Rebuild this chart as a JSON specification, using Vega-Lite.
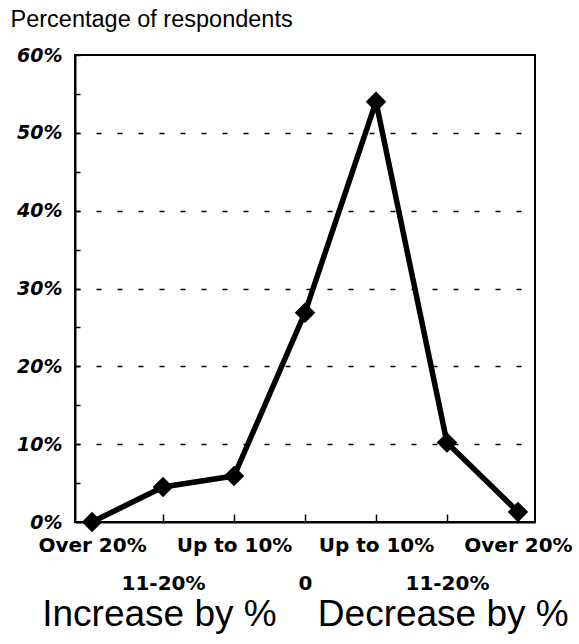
{
  "$schema": "https://vega.github.io/schema/vega-lite/v6.json",
  "width": 460,
  "height": 467,
  "autosize": {"type": "none"},
  "padding": {"left": 75, "top": 55, "right": 44, "bottom": 122},
  "background": "white",
  "config": {"view": {"stroke": "black", "strokeWidth": 2}, "font": "Liberation Sans"},
  "data": {"values": [
    {"i": 0, "direction": "Increase", "range": "Over 20%", "pct": 0},
    {"i": 1, "direction": "Increase", "range": "11-20%", "pct": 4.5},
    {"i": 2, "direction": "Increase", "range": "Up to 10%", "pct": 5.9},
    {"i": 3, "direction": "None", "range": "0", "pct": 26.9},
    {"i": 4, "direction": "Decrease", "range": "Up to 10%", "pct": 54.0},
    {"i": 5, "direction": "Decrease", "range": "11-20%", "pct": 10.2},
    {"i": 6, "direction": "Decrease", "range": "Over 20%", "pct": 1.3}
  ]},
  "encoding": {
    "x": {
      "field": "i", "type": "quantitative",
      "scale": {"domain": [-0.24, 6.24], "nice": false, "zero": false},
      "axis": {
        "values": [0, 1, 2, 3, 4, 5, 6],
        "labelExpr": "['Over 20%', ['', '11-20%'], 'Up to 10%', ['', '0'], 'Up to 10%', ['', '11-20%'], 'Over 20%'][datum.value]",
        "labelFont": "DejaVu Sans", "labelFontWeight": "bold", "labelFontSize": 20,
        "labelColor": "black", "labelLineHeight": 38, "labelBaseline": "top",
        "labelPadding": 21, "labelFlush": false, "labelOverlap": false,
        "tickSize": -8, "tickColor": "black", "tickWidth": 1.5,
        "domainColor": "black", "domainWidth": 2, "grid": false,
        "title": "Increase by %\u00a0\u00a0\u00a0\u00a0Decrease by %",
        "titleFont": "Liberation Sans", "titleFontSize": 37, "titleFontWeight": "normal",
        "titleColor": "black", "titlePadding": 3
      }
    },
    "y": {
      "field": "pct", "type": "quantitative",
      "scale": {"domain": [0, 60], "nice": false},
      "axis": {
        "values": [0, 5, 10, 15, 20, 25, 30, 35, 40, 45, 50, 55, 60],
        "labelExpr": "datum.value % 10 === 0 ? datum.value + '%' : ''",
        "labelFont": "DejaVu Sans", "labelFontWeight": "bold", "labelFontStyle": "italic",
        "labelFontSize": 19, "labelColor": "black", "labelPadding": 18,
        "tickSize": -5, "tickColor": "black", "tickWidth": 1.5,
        "domainColor": "black", "domainWidth": 2,
        "grid": true, "gridColor": "black", "gridDash": [5, 16], "gridWidth": 1.5,
        "gridOpacity": {"condition": {"test": "datum.value % 10 !== 0 || datum.value === 0 || datum.value === 60", "value": 0}, "value": 1},
        "title": "Percentage of respondents",
        "titleAngle": 0, "titleAlign": "left", "titleBaseline": "alphabetic",
        "titleX": -65, "titleY": -29,
        "titleFont": "Liberation Sans", "titleFontSize": 23.5, "titleFontWeight": "normal", "titleColor": "black"
      }
    }
  },
  "layer": [
    {"mark": {"type": "line", "color": "black", "strokeWidth": 5.5}},
    {"mark": {"type": "point", "shape": "diamond", "filled": true, "color": "black", "size": 420, "opacity": 1}}
  ]
}
